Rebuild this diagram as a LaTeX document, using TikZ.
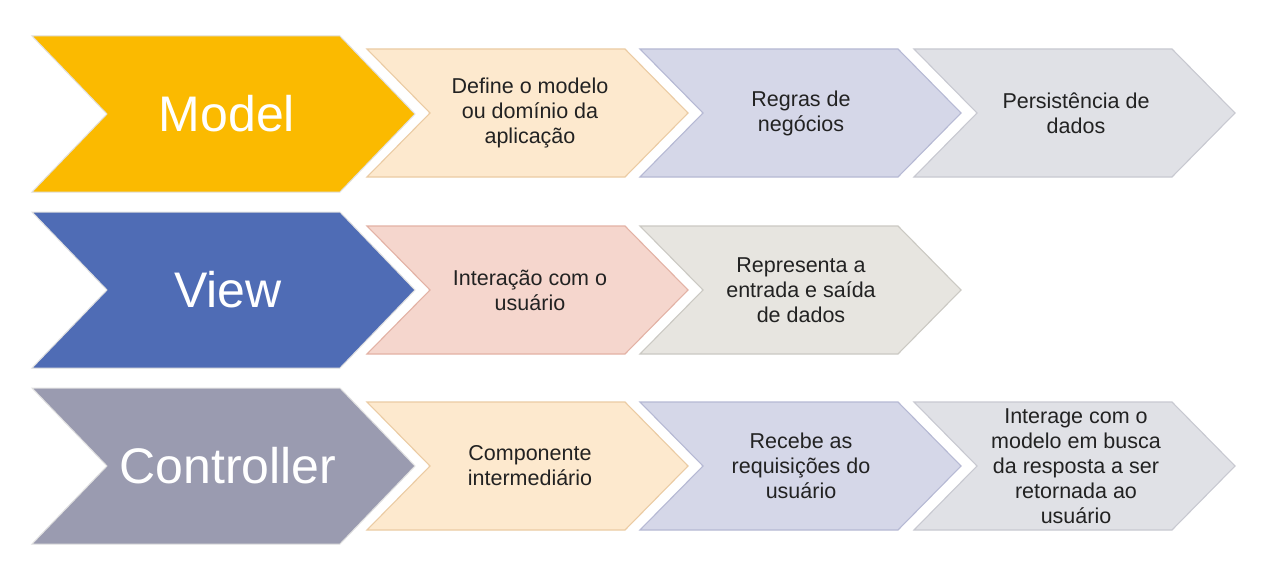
\documentclass[tikz,border=0pt]{standalone}
\usepackage{fontspec}
\setmainfont{Liberation Sans}
\definecolor{cModel}{HTML}{FBBA00}
\definecolor{cView}{HTML}{4F6CB5}
\definecolor{cCtrl}{HTML}{9A9BB0}
\definecolor{beigeF}{HTML}{FDE9CE}
\definecolor{beigeD}{HTML}{EBCBA3}
\definecolor{lavF}{HTML}{D5D7E8}
\definecolor{lavD}{HTML}{B6B9D4}
\definecolor{grayF}{HTML}{E0E1E6}
\definecolor{grayD}{HTML}{C8C9D1}
\definecolor{pinkF}{HTML}{F5D6CD}
\definecolor{pinkD}{HTML}{E3B2A5}
\definecolor{sandF}{HTML}{E7E5E0}
\definecolor{sandD}{HTML}{CBC9C3}
\definecolor{txt}{HTML}{222222}
\newcommand\chevshape[6]{%
  \path[#1] (#2,#3-#5) -- (#2+#4-#6,#3-#5) -- (#2+#4,#3) -- (#2+#4-#6,#3+#5) -- (#2,#3+#5) -- (#2+#6,#3) -- cycle;}
\newcommand\bigchev[3]{\chevshape{#1}{32}{#2}{383}{78}{75}}
\newcommand\smallchev[3]{\chevshape{#1}{#2}{#3}{321}{64}{63}}
\begin{document}
\begin{tikzpicture}[x=1pt,y=-1pt,
  bigfill/.style={fill=#1,draw=black!12,line width=1pt,line join=miter},
  boxfill/.style 2 args={fill=#1,draw=#2,line width=1.1pt,line join=miter},
  bigtxt/.style={text=white,font=\fontsize{50}{56}\selectfont,inner sep=0pt},
  smalltxt/.style={text=txt,align=center,font=\fontsize{21.5}{25}\selectfont,inner sep=0pt}]
\useasboundingbox[fill=white] (0,0) rectangle (1277,583);
% Row 1
\bigchev{bigfill=cModel}{114}{}
\smallchev{boxfill={beigeF}{beigeD}}{367}{113}
\smallchev{boxfill={lavF}{lavD}}{640}{113}
\smallchev{boxfill={grayF}{grayD}}{914}{113}
\node[bigtxt] (model) at (227,114) {Model};
\node[smalltxt] (m1) at (530,113) {Define o modelo\\ou domínio da\\aplicação};
\node[smalltxt] (m2) at (801,113) {Regras de\\negócios};
\node[smalltxt] (m3) at (1076,113) {Persistência de\\dados};
% Row 2
\bigchev{bigfill=cView}{290}{}
\smallchev{boxfill={pinkF}{pinkD}}{367}{290}
\smallchev{boxfill={sandF}{sandD}}{640}{290}
\node[bigtxt] (view) at (228,290) {View};
\node[smalltxt] (v1) at (530,290) {Interação com o\\usuário};
\node[smalltxt] (v2) at (801,290) {Representa a\\entrada e saída\\de dados};
% Row 3
\bigchev{bigfill=cCtrl}{466}{}
\smallchev{boxfill={beigeF}{beigeD}}{367}{466}
\smallchev{boxfill={lavF}{lavD}}{640}{466}
\smallchev{boxfill={grayF}{grayD}}{914}{466}
\node[bigtxt] (ctrl) at (228,466) {Controller};
\node[smalltxt] (c1) at (530,466) {Componente\\intermediário};
\node[smalltxt] (c2) at (801,466) {Recebe as\\requisições do\\usuário};
\node[smalltxt] (c3) at (1076,466) {Interage com o\\modelo em busca\\da resposta a ser\\retornada ao\\usuário};
\end{tikzpicture}
\end{document}
